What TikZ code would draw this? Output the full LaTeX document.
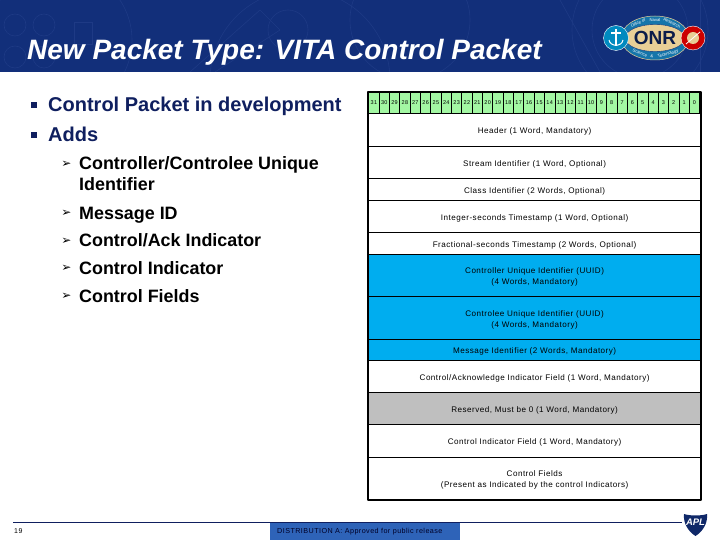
\documentclass[tikz,border=0pt]{standalone}
\usepackage{fontspec}
\setmainfont{Liberation Sans}
\newfontfamily\rowfont[LetterSpace=6]{Liberation Sans}
\newfontfamily\symfont{DejaVu Sans}
\usetikzlibrary{shapes.geometric}
\definecolor{inkbanner}{HTML}{122F7A}
\definecolor{inkfaintblue}{HTML}{1E3A85}
\definecolor{inknavy}{HTML}{0F1F5F}
\definecolor{inkbit}{HTML}{A3F7A3}
\definecolor{inkcyan}{HTML}{00ADEF}
\definecolor{inkgrey}{HTML}{BFBFBF}
\definecolor{inkfooter}{HTML}{2E63B8}
\definecolor{inktan}{HTML}{E8CF96}
\tikzset{
  bitcell/.style={draw=black, line width=0.7pt, fill=inkbit, inner sep=0pt,
    minimum width=10.34pt, minimum height=21pt, font=\rowfont\fontsize{5.5}{6}\selectfont},
  rowbox/.style={draw=black, line width=0.8pt, inner sep=0pt, anchor=north, minimum width=332pt},
  rowlabel/.style={inner sep=0pt, align=center, font=\rowfont\fontsize{8.1}{11}\selectfont},
  topitem/.style={anchor=base west, inner sep=0pt, text=inknavy, font=\bfseries\fontsize{20}{23}\selectfont},
  subitem/.style={anchor=base west, inner sep=0pt, text=black, font=\bfseries\fontsize{17.9}{21}\selectfont},
  subarrow/.style={anchor=center, inner sep=0pt, text=black, font=\symfont\fontsize{12}{14}\selectfont},
  squarebullet/.style={fill=inknavy, inner sep=0pt, minimum size=5.5pt},
  faintline/.style={draw=inkfaintblue, line width=0.6pt},
  logoword/.style={inner sep=0pt, text=white, font=\fontsize{4.2}{5}\selectfont},
}
\begin{document}
\begin{tikzpicture}[x=1pt, y=-1pt]
  \useasboundingbox (0,0) rectangle (720,540);
  % banner
  \fill[inkbanner] (0,0) rectangle (720,72);
  \begin{scope}
    \clip (0,0) rectangle (720,72);
    \foreach \cx/\cy/\rad in {15/25/11, 44/25/11, 15/57/11, 44/57/11, 60/40/72, 300/80/90,
                            410/20/60, 640/30/68, 640/30/48, 288/30/20}{%
      \draw[faintline] (\cx,\cy) circle (\rad);}
    \draw[faintline] (74,22) rectangle (92,44);
    \draw[faintline] (190,72) -- (260,10) -- (280,30) -- (215,72);
    \draw[faintline] (560,0) -- (600,72);
    \draw[faintline] (700,0) -- (700,72);
  \end{scope}
  \node[anchor=base west, inner sep=0pt, text=white, font=\bfseries\itshape\fontsize{28}{32}\selectfont]
    (title) at (27,60) {New Packet Type: VITA Control Packet};
  % logo
  \node[ellipse, fill=inkfaintblue!70!cyan, draw=inktan, line width=0.5pt, minimum width=68pt, minimum height=44pt, inner sep=0pt]
    (logoring) at (655,38) {};
  \foreach \i/\lab/\x/\y/\ang in {1/Office of/638/23/25, 2/Naval/655/20/0, 3/Research/672/23/-25,
                                  4/Science/640/53/-20, 5/\&/652/56/-5, 6/Technology/668/54/15}{%
    \node[logoword, rotate=\ang] (logoword\i) at (\x,\y) {\lab};}
  \node[ellipse, fill=inktan, draw=inkbanner, line width=0.4pt, minimum width=54pt, minimum height=27pt, inner sep=0pt,
    font=\bfseries\fontsize{19}{20}\selectfont, text=inkbanner!60!black]
    (logoname) at (655,38) {ONR};
  \node[circle, fill=inkcyan!80!black, draw=white, line width=0.4pt, minimum size=25pt, inner sep=0pt] (logonavy) at (616,38) {};
  \node[circle, fill=red!80!black, draw=white, line width=0.4pt, minimum size=24pt, inner sep=0pt] (logomarine) at (693,38) {};
  \draw[white, line width=1.2pt] (616,29) -- (616,46) (611,33) -- (621,33);
  \draw[white, line width=1pt] (609,40) .. controls (610,47) and (622,47) .. (623,40);
  \fill[inktan] (693,38) circle (6);
  \draw[white, line width=0.8pt] (686,44) -- (700,32);
  % left text
  \node[squarebullet] (sq1) at (34,105) {};
  \node[topitem] (adds1) at (48,112) {Control Packet in development};
  \node[squarebullet] (sq2) at (34,135) {};
  \node[topitem] (adds2) at (48,142) {Adds};
  \foreach \i/\y/\lab in {1/170/{Controller/Controlee Unique}, 1b/191/{Identifier}, 2/219/{Message ID},
                          3/247/{Control/Ack Indicator}, 4/274/{Control Indicator}, 5/302/{Control Fields}}{%
    \node[subitem] (sub\i) at (79,\y) {\lab};}
  \foreach \i/\y in {1/164, 2/213, 3/241, 4/268, 5/296}{%
    \node[subarrow] (arrow\i) at (66.5,\y) {➢};}
  % packet layout
  \foreach \n in {0,...,31}{%
    \node[bitcell] (bit\n) at ({373.9+(31-\n)*10.34},102.5) {\n};}
  \foreach \i/\ytop/\ybot/\col/\lab in {
      1/113/146/white/{Header (1 Word, Mandatory)},
      2/146/178/white/{Stream Identifier (1 Word, Optional)},
      3/178/200/white/{Class Identifier (2 Words, Optional)},
      4/200/232/white/{Integer-seconds Timestamp (1 Word, Optional)},
      5/232/254/white/{Fractional-seconds Timestamp (2 Words, Optional)},
      6/254/296/inkcyan/{Controller Unique Identifier (UUID)\\(4 Words, Mandatory)},
      7/296/339/inkcyan/{Controlee Unique Identifier (UUID)\\(4 Words, Mandatory)},
      8/339/360/inkcyan/{Message Identifier (2 Words, Mandatory)},
      9/360/392/white/{Control/Acknowledge Indicator Field (1 Word, Mandatory)},
      10/392/424/inkgrey/{Reserved, Must be 0 (1 Word, Mandatory)},
      11/424/457/white/{Control Indicator Field (1 Word, Mandatory)},
      12/457/499/white/{Control Fields\\(Present as Indicated by the control Indicators)}}{%
    \node[rowbox, fill=\col, minimum height={(\ybot-\ytop)*1pt}] (row\i) at (534.6,\ytop) {};
    \node[rowlabel] (rowlab\i) at ([yshift=-1.6pt]row\i.center) {\lab};}
  \draw[black, line width=2pt, line join=round] (bit31.north west) rectangle (row12.south east);
  % footer
  \fill[inkfooter] (270,523) rectangle (460,540);
  \draw[inknavy, line width=0.8pt] (13,522.5) -- (682,522.5);
  \node[anchor=west, inner sep=0pt, font=\rowfont\fontsize{7.2}{8}\selectfont, text=black!85!blue]
    (distrib) at (277,532) {DISTRIBUTION A: Approved for public release};
  \node[anchor=west, inner sep=0pt, font=\rowfont\fontsize{7}{8}\selectfont] (pagenum) at (14,531) {19};
  \fill[inkbanner!85!black] (684,514) .. controls (690,516) and (701,516) .. (707,514)
    .. controls (708,524) and (702,532) .. (695.5,536) .. controls (689,532) and (683,524) .. (684,514) -- cycle;
  \node[inner sep=0pt, text=white, font=\bfseries\itshape\fontsize{9.5}{10}\selectfont] (aplmark) at (695.5,522) {APL};
\end{tikzpicture}
\end{document}
